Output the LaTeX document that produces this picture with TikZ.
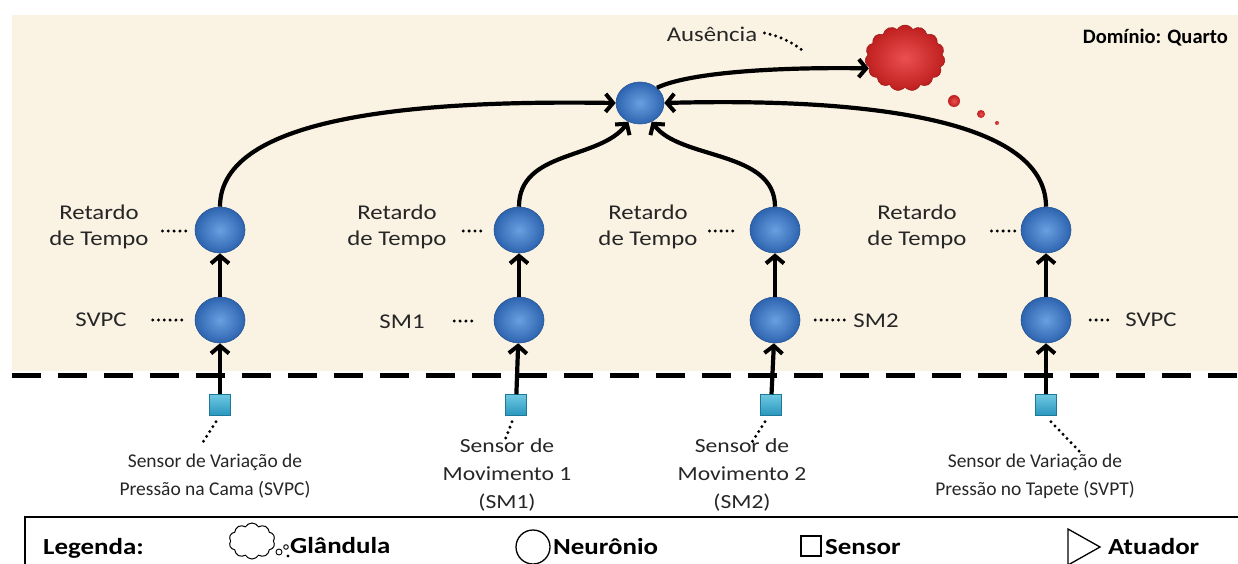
\documentclass[tikz,border=0pt]{standalone}
\usepackage{fontspec}
\setmainfont{Carlito}[FakeStretch=1.18]
\newfontfamily\narrowfont{Carlito}
\newfontfamily\keyfont{Carlito}[FakeStretch=1.17]
\usetikzlibrary{arrows.meta,shapes.symbols,shapes.geometric}
\definecolor{roombg}{RGB}{250,243,228}
\definecolor{nin}{RGB}{105,160,225}
\definecolor{nout}{RGB}{45,100,175}
\definecolor{nrim}{RGB}{40,85,150}
\definecolor{sin}{RGB}{110,200,225}
\definecolor{sout}{RGB}{40,150,190}
\definecolor{gin}{RGB}{235,80,80}
\definecolor{gout}{RGB}{190,30,30}
\begin{document}
\begin{tikzpicture}[x=1pt,y=-1pt,
  font=\fontsize{21}{26.5}\selectfont,
  neuron/.style={ellipse,minimum width=50pt,minimum height=46pt,inner sep=0pt,
    inner color=nin,outer color=nout,draw=nrim,line width=0.6pt},
  sensorbox/.style={rectangle,minimum size=21pt,inner sep=0pt,
    top color=sin,bottom color=sout,draw=sout!80!black,line width=0.5pt},
  gland/.style={cloud,cloud puffs=15,cloud puff arc=120,aspect=1.2,
    minimum width=80pt,minimum height=66pt,inner sep=0pt,
    inner color=gin,outer color=gout,draw=gout!80!black,line width=0.5pt},
  bubble/.style={circle,inner sep=0pt,inner color=gin,outer color=gout},
  link/.style={line width=4.2pt,-{Straight Barb[length=7.5pt,width=18pt,line width=4pt]}},
  leader/.style={line width=3.3pt,dash pattern=on 0pt off 5.8pt,line cap=round},
  lbl/.style={align=center,inner sep=0pt,text=black!85},
  slbl/.style={lbl,font=\narrowfont\fontsize{19.5}{28}\selectfont},
  mlbl/.style={lbl,font=\fontsize{20}{28}\selectfont},
  lgd/.style={anchor=west,inner sep=0pt,font=\keyfont\fontsize{23}{26}\selectfont\bfseries}]
\useasboundingbox (0,0) rectangle (1238,563);

% room area and its boundary
\fill[roombg] (12,15) rectangle (1238,371);
\draw[line width=5pt,dash pattern=on 29pt off 17pt] (12,375) -- (1238,375);
\node[anchor=east,inner sep=0pt,font=\narrowfont\fontsize{20.5}{25}\selectfont\bfseries] (dom) at (1228,38) {Domínio: Quarto};

% neurons
\node[neuron,minimum width=48pt,minimum height=42pt] (top) at (640,103) {};
\node[neuron] (r1) at (220,230) {};
\node[neuron] (r2) at (519,230) {};
\node[neuron] (r3) at (775,230) {};
\node[neuron] (r4) at (1046,230) {};
\node[neuron] (n1) at (220,320) {};
\node[neuron] (n2) at (519,320) {};
\node[neuron] (n3) at (775,320) {};
\node[neuron] (n4) at (1046,320) {};

% sensors
\node[sensorbox] (s1) at (220,405) {};
\node[sensorbox] (s2) at (516,405) {};
\node[sensorbox] (s3) at (771,405) {};
\node[sensorbox] (s4) at (1046,405) {};

% gland with its trailing bubbles
\node[gland] (gl) at (905,58) {};
\node[bubble,minimum size=12pt] (b1) at (954,101) {};
\node[bubble,minimum size=8pt] (b2) at (981,114) {};
\node[bubble,minimum size=4pt] (b3) at (997,123) {};

% signal paths
\foreach \i in {1,2,3,4}{
  \draw[link] (s\i) -- (n\i);
  \draw[link] (n\i) -- (r\i);
}
\draw[link] (r1.north) .. controls (220,115) and (420,100) .. (top.west);
\draw[link] (r2.north) .. controls (519,150) and (600,160) .. (top.238);
\draw[link] (r3.north) .. controls (775,150) and (680,160) .. (top.302);
\draw[link] (r4.north) .. controls (1046,115) and (850,98) .. (top.east);
\draw[link] (top.42) .. controls (690,72) and (780,67) .. (gl.196);

% labels
\node[lbl] (lr1) at (99,227) {Retardo\\de Tempo};
\node[lbl] (lr2) at (397,227) {Retardo\\de Tempo};
\node[lbl] (lr3) at (648,227) {Retardo\\de Tempo};
\node[lbl] (lr4) at (917,227) {Retardo\\de Tempo};
\draw[leader] (r1.west) ++(-9,1) -- ++(-26,0);
\draw[leader] (r2.west) ++(-13,1) -- ++(-23,0);
\draw[leader] (r3.west) ++(-17,1) -- ++(-27,0);
\draw[leader] (r4.west) ++(-6,1) -- ++(-25,0);

\node[lbl] (ln1) at (101,320) {SVPC};
\node[lbl] (ln2) at (402,322) {SM1};
\node[lbl] (ln3) at (876,321) {SM2};
\node[lbl] (ln4) at (1151,320) {SVPC};
\draw[leader] (n1.west) ++(-13,0) -- ++(-30,0);
\draw[leader] (n2.west) ++(-22,1) -- ++(-19,0);
\draw[leader] (n3.east) ++(15,0) -- ++(30,0);
\draw[leader] (n4.east) ++(19,0) -- ++(22,0);

\node[lbl] (au) at (712,34) {Ausência};
\draw[leader] (au.east) ++(7,-1) .. controls (775,35) and (790,40) .. (803,51);

\node[slbl] (ls1) at (215,476) {Sensor de Variação de\\Pressão na Cama (SVPC)};
\node[mlbl] (ls2) at (507,475) {Sensor de\\Movimento 1\\(SM1)};
\node[mlbl] (ls3) at (742,475) {Sensor de\\Movimento 2\\(SM2)};
\node[slbl] (ls4) at (1035,476) {Sensor de Variação de\\Pressão no Tapete (SVPT)};
\draw[leader] (s1.south) ++(-4,6) -- (201,445);
\draw[leader] (s2.south) ++(-4,6) -- (505,440);
\draw[leader] (s3.south) ++(-6,6) -- (752,442);
\draw[leader] (s4.south) ++(5,6) -- (1080,452);

% legend
\draw[line width=1.3pt] (25,517) rectangle (1250,580);
\node[lgd] (lg) at (43,548) {Legenda:};
\node[cloud,cloud puffs=10,cloud puff arc=120,aspect=1.3,minimum width=46pt,
  minimum height=36pt,inner sep=0pt,draw,line width=1pt] (kg) at (252,541) {};
\draw[line width=0.9pt] (279,552) circle (3pt) (286,547) circle (2.3pt);
\fill (288,556) circle (1.6pt);
\node[lgd] (tg) at (290,546) {Glândula};
\draw[line width=1.3pt] (533,547) circle (17pt);
\node[lgd] (tn) at (553,547) {Neurônio};
\draw[line width=1.3pt] (801,536) rectangle (821,556);
\node[lgd] (ts) at (825,547) {Sensor};
\draw[line width=1.3pt] (1068,529) -- (1100,547) -- (1068,565) -- cycle;
\node[lgd] (ta) at (1108,547) {Atuador};
\end{tikzpicture}
\end{document}
